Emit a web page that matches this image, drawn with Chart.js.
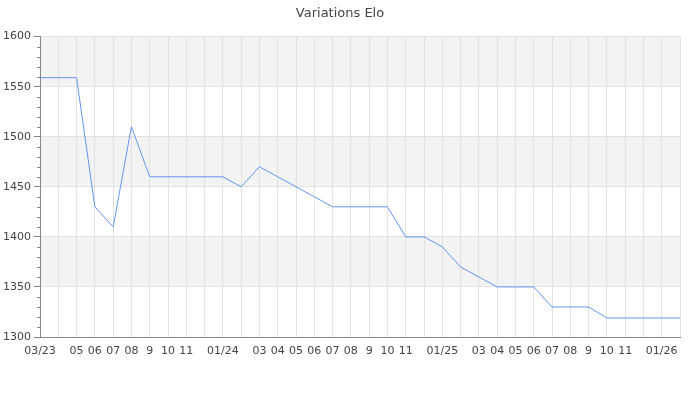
<!DOCTYPE html>
<html>
<head>
<meta charset="utf-8">
<script src="https://cdn.jsdelivr.net/npm/chart.js@4.4.0/dist/chart.umd.min.js"></script>
<style>
  html, body { margin: 0; padding: 0; background: #fff; }
  #wrap { width: 700px; height: 400px; }
</style>
</head>
<body>
<div id="wrap"><canvas id="eloChart" width="700" height="400"></canvas></div>
<script>
// Mois (03/23 -> 02/26) et étiquettes affichées
const months = ['03/23','04','05','06','07','08','09','10','11','12',
                '01/24','02','03','04','05','06','07','08','09','10','11','12',
                '01/25','02','03','04','05','06','07','08','09','10','11','12',
                '01/26','02'];
const tickLabels = ['03/23','','05','06','07','08','9','10','11','',
                    '01/24','','03','04','05','06','07','08','9','10','11','',
                    '01/25','','03','04','05','06','07','08','9','10','11','',
                    '01/26',''];
const elo = [1559, 1559, 1559, 1430, 1410, 1510, 1460, 1460, 1460, 1460,
             1460, 1450, 1470, 1460, 1450, 1440, 1430, 1430, 1430, 1430,
             1400, 1400, 1390, 1370, 1360, 1350, 1350, 1350, 1330, 1330,
             1330, 1319, 1319, 1319, 1319, 1319];
const yTicks = [1300, 1350, 1400, 1450, 1500, 1550, 1600];
const bands = [[1350, 1400], [1450, 1500], [1550, 1600]];

// Bandes grises + petites graduations sur l'axe Y
const bandPlugin = {
    id: 'bands',
    beforeDraw(chart) {
        const { ctx, chartArea, scales } = chart;
        ctx.save();
        ctx.fillStyle = '#f3f3f3';
        bands.forEach(b => {
            const y1 = scales.y.getPixelForValue(b[1]);
            const y0 = scales.y.getPixelForValue(b[0]);
            ctx.fillRect(chartArea.left, y1, chartArea.right - chartArea.left, y0 - y1);
        });
        ctx.restore();
    },
    afterDraw(chart) {
        const { ctx, chartArea, scales } = chart;
        ctx.save();
        ctx.strokeStyle = '#888';
        ctx.lineWidth = 1;
        for (let v = 1300; v <= 1600; v += 10) {
            if (v % 50 === 0) continue;
            const y = Math.round(scales.y.getPixelForValue(v)) + 0.5;
            ctx.beginPath();
            ctx.moveTo(chartArea.left - 3, y);
            ctx.lineTo(chartArea.left, y);
            ctx.stroke();
        }
        ctx.restore();
    }
};

new Chart(document.getElementById('eloChart').getContext('2d'), {
    type: 'line',
    data: {
        labels: months,
        datasets: [{
            label: 'Elo',
            data: elo,
            borderColor: '#6495ed',
            borderWidth: 1,
            pointRadius: 0,
            tension: 0,
            fill: false
        }]
    },
    options: {
        responsive: false,
        animation: false,
        devicePixelRatio: 1,
        layout: { padding: { right: 20, left: 0, bottom: 0 } },
        plugins: {
            legend: { display: false },
            tooltip: { enabled: false },
            title: {
                display: true,
                text: 'Variations Elo',
                color: '#444',
                font: { family: 'DejaVu Sans', size: 13, weight: 'normal' },
                padding: { top: 6, bottom: 15 }
            }
        },
        scales: {
            x: {
                offset: false,
                grid: { color: '#e2e2e2', drawTicks: false },
                border: { color: '#888' },
                afterFit(scale) { scale.height = 63; },
                ticks: {
                    autoSkip: false,
                    maxRotation: 0,
                    padding: 8,
                    color: '#444',
                    font: { family: 'DejaVu Sans', size: 11 },
                    callback: (val, i) => tickLabels[i]
                }
            },
            y: {
                min: 1300,
                max: 1600,
                afterFit(scale) { scale.width = 40; },
                afterBuildTicks(scale) { scale.ticks = yTicks.map(v => ({ value: v })); },
                grid: { color: '#e2e2e2', tickColor: '#888', tickLength: 6 },
                border: { color: '#888' },
                ticks: {
                    padding: 3,
                    color: '#444',
                    font: { family: 'DejaVu Sans', size: 11 },
                    callback: v => String(v)
                }
            }
        }
    },
    plugins: [bandPlugin]
});
</script>
</body>
</html>
